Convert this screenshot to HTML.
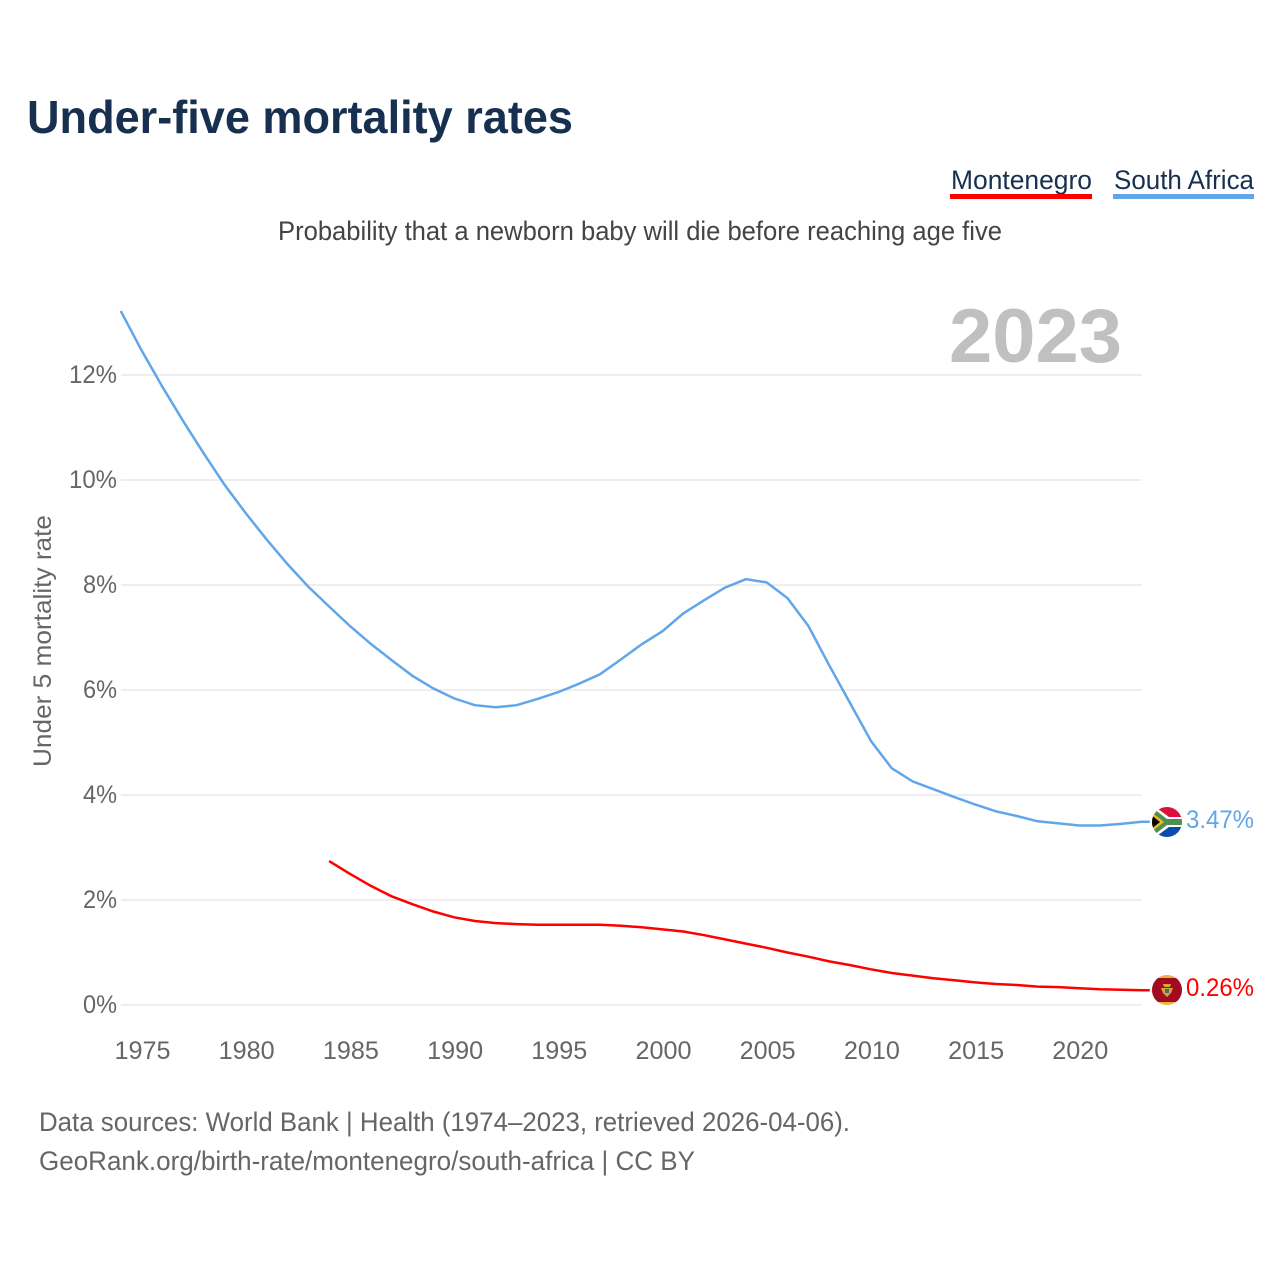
<!DOCTYPE html>
<html lang="en">
<head>
<meta charset="utf-8">
<title>Under-five mortality rates</title>
<style>
html,body{margin:0;padding:0;background:#fff}
svg{display:block}
text{font-family:"Liberation Sans",sans-serif}
</style>
</head>
<body>
<svg id="chart" xmlns="http://www.w3.org/2000/svg" width="1280" height="1280" viewBox="0 0 1280 1280">
  <defs>
    <clipPath id="flag-clip-za"><circle cx="1167" cy="822" r="15"/></clipPath>
    <clipPath id="flag-clip-me"><circle cx="1167" cy="990" r="15"/></clipPath>
  </defs>
  <text x="27" y="133" font-size="46" font-weight="700" fill="#17304f" textLength="546" lengthAdjust="spacingAndGlyphs">Under-five mortality rates</text>

  <text x="951" y="189" font-size="27" fill="#17304f" textLength="141" lengthAdjust="spacingAndGlyphs">Montenegro</text>
  <rect x="950" y="194" width="142" height="5" fill="#ff0000"/>
  <text x="1114" y="189" font-size="27" fill="#17304f" textLength="140" lengthAdjust="spacingAndGlyphs">South Africa</text>
  <rect x="1113" y="194" width="141" height="5" fill="#62a6ea"/>

  <text x="278" y="240" font-size="27" fill="#444444" textLength="724" lengthAdjust="spacingAndGlyphs">Probability that a newborn baby will die before reaching age five</text>

  <text x="949" y="362" font-size="76" font-weight="700" fill="#c0c0c0" textLength="173" lengthAdjust="spacingAndGlyphs">2023</text>

  <g id="grid"></g>
  <g id="y-ticks"></g>
  <g id="x-ticks"></g>

  <text transform="translate(51,767) rotate(-90)" font-size="25" fill="#666666" textLength="252" lengthAdjust="spacingAndGlyphs">Under 5 mortality rate</text>

  <g id="series"></g>

  <g clip-path="url(#flag-clip-za)">
    <rect x="1152" y="807" width="30" height="15" fill="#de0f3b"/>
    <rect x="1152" y="822" width="30" height="15" fill="#0b4cad"/>
    <path d="M1150 803 L1169 817 H1184 V827 H1169 L1150 841 Z" fill="#ffffff"/>
    <path d="M1150 806 L1167 819 H1184 V825 H1167 L1150 838 Z" fill="#4f8f4f"/>
    <path d="M1150 811 L1164 822 L1150 833 Z" fill="#f5b92b"/>
    <path d="M1150 814 L1160 822 L1150 830 Z" fill="#000000"/>
  </g>
  <g clip-path="url(#flag-clip-me)">
    <rect x="1152" y="975" width="30" height="30" fill="#e9b63c"/>
    <rect x="1152" y="978" width="30" height="24" fill="#a30b25"/>
    <path d="M1163 984 H1171 L1170 987 H1164 Z" fill="#d8a62e"/>
    <path d="M1161 988 H1173 L1171 993 L1167 997 L1163 993 Z" fill="#d8a62e"/>
    <rect x="1165" y="989" width="4" height="4" fill="#3c6e8c"/>
  </g>

  <text x="1186" y="828" font-size="25" fill="#62a6ea" textLength="68" lengthAdjust="spacingAndGlyphs">3.47%</text>
  <text x="1186" y="996" font-size="25" fill="#ff0000" textLength="68" lengthAdjust="spacingAndGlyphs">0.26%</text>

  <text x="39" y="1131" font-size="27" fill="#666666" textLength="811" lengthAdjust="spacingAndGlyphs">Data sources: World Bank | Health (1974–2023, retrieved 2026-04-06).</text>
  <text x="39" y="1170" font-size="27" fill="#666666" textLength="656" lengthAdjust="spacingAndGlyphs">GeoRank.org/birth-rate/montenegro/south-africa | CC BY</text>
</svg>
<script>
const yearTicks = [1975, 1980, 1985, 1990, 1995, 2000, 2005, 2010, 2015, 2020];
const percentTicks = [0, 2, 4, 6, 8, 10, 12];
const southAfricaYears = [1974,1975,1976,1977,1978,1979,1980,1981,1982,1983,1984,1985,1986,1987,1988,1989,1990,1991,1992,1993,1994,1995,1996,1997,1998,1999,2000,2001,2002,2003,2004,2005,2006,2007,2008,2009,2010,2011,2012,2013,2014,2015,2016,2017,2018,2019,2020,2021,2022,2023];
const southAfricaValues = [13.22,12.47,11.78,11.12,10.5,9.9,9.37,8.87,8.4,7.97,7.59,7.22,6.88,6.57,6.27,6.03,5.84,5.71,5.67,5.71,5.83,5.96,6.12,6.3,6.58,6.87,7.12,7.46,7.71,7.95,8.11,8.05,7.75,7.22,6.47,5.75,5.03,4.51,4.26,4.11,3.96,3.82,3.69,3.6,3.5,3.46,3.42,3.42,3.45,3.49];
const montenegroYears = [1984,1985,1986,1987,1988,1989,1990,1991,1992,1993,1994,1995,1996,1997,1998,1999,2000,2001,2002,2003,2004,2005,2006,2007,2008,2009,2010,2011,2012,2013,2014,2015,2016,2017,2018,2019,2020,2021,2022,2023];
const montenegroValues = [2.74,2.5,2.27,2.07,1.92,1.78,1.67,1.6,1.56,1.54,1.53,1.53,1.53,1.53,1.51,1.48,1.44,1.4,1.33,1.25,1.17,1.09,1.0,0.92,0.83,0.76,0.68,0.61,0.56,0.51,0.47,0.43,0.4,0.38,0.35,0.34,0.32,0.3,0.29,0.28];

const NS = 'http://www.w3.org/2000/svg';
function xScale(year) { return 141.5 + (year - 1975) * 20.84; }
function yScale(pct) { return 1005 - pct * 52.5; }

const gridGroup = document.getElementById('grid');
const yTickGroup = document.getElementById('y-ticks');
const xTickGroup = document.getElementById('x-ticks');
const seriesGroup = document.getElementById('series');

percentTicks.forEach(function (p) {
  const line = document.createElementNS(NS, 'line');
  
  
  line.setAttribute('x1', 121);
  line.setAttribute('x2', xScale(2023));
  line.setAttribute('y1', yScale(p));
  line.setAttribute('y2', yScale(p));
  line.setAttribute('stroke', '#eeeeee');
  line.setAttribute('stroke-width', 2);
  gridGroup.appendChild(line);

  const label = document.createElementNS(NS, 'text');
  
  
  const w = p >= 10 ? 48 : 34;
  label.setAttribute('x', 117 - w);
  label.setAttribute('y', yScale(p) + 8);
  label.setAttribute('font-size', 25);
  label.setAttribute('fill', '#666666');
  label.setAttribute('textLength', w);
  label.setAttribute('lengthAdjust', 'spacingAndGlyphs');
  label.textContent = p + '%';
  yTickGroup.appendChild(label);
});

yearTicks.forEach(function (yr) {
  const label = document.createElementNS(NS, 'text');
  
  
  label.setAttribute('x', xScale(yr) - 27);
  label.setAttribute('y', 1059);
  label.setAttribute('font-size', 25);
  label.setAttribute('fill', '#666666');
  label.setAttribute('textLength', 56);
  label.setAttribute('lengthAdjust', 'spacingAndGlyphs');
  label.textContent = yr;
  xTickGroup.appendChild(label);
});

function linePath(years, values) {
  const pts = years.map(function (yr, i) {
    return xScale(yr).toFixed(1) + ',' + yScale(values[i]).toFixed(1);
  });
  const lastY = yScale(values[values.length - 1]).toFixed(1);
  pts.push((xScale(years[years.length - 1]) + 8).toFixed(1) + ',' + lastY);
  return pts.join(' ');
}

const southAfricaLine = document.createElementNS(NS, 'polyline');


southAfricaLine.setAttribute('points', linePath(southAfricaYears, southAfricaValues));
southAfricaLine.setAttribute('fill', 'none');
southAfricaLine.setAttribute('stroke', '#62a6ea');
southAfricaLine.setAttribute('stroke-width', 2.5);
seriesGroup.appendChild(southAfricaLine);

const montenegroLine = document.createElementNS(NS, 'polyline');


montenegroLine.setAttribute('points', linePath(montenegroYears, montenegroValues));
montenegroLine.setAttribute('fill', 'none');
montenegroLine.setAttribute('stroke', '#ff0000');
montenegroLine.setAttribute('stroke-width', 2.5);
seriesGroup.appendChild(montenegroLine);
</script>
</body>
</html>
